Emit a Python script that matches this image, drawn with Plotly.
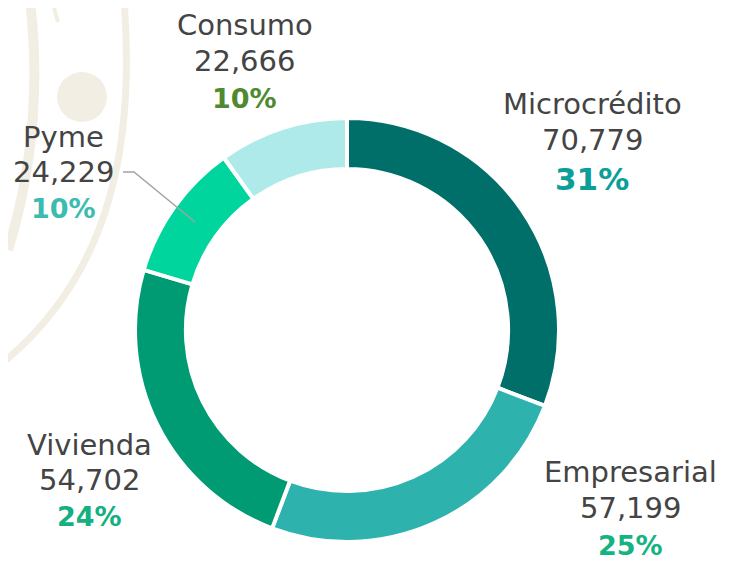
import plotly.graph_objects as go

W, H = 730, 563
OFF = 8  # page body margin of the saved html
FW, FH = W - OFF, H - OFF

categories = ["Microcrédito", "Empresarial", "Vivienda", "Pyme", "Consumo"]
values = [70779, 57199, 54702, 24229, 22666]
value_labels = ["70,779", "57,199", "54,702", "24,229", "22,666"]
pct_labels = ["31%", "25%", "24%", "10%", "10%"]
slice_colors = ["#006e69", "#2db2ae", "#009b72", "#00d59d", "#aeeaea"]
pct_colors = ["#0c9e99", "#14b381", "#15b07f", "#3cbcb0", "#4f8a30"]
pct_sizes = [31, 27, 27, 27, 27]

# label block centres (pixel coords: x centre, y of first line)
label_x = [592, 630, 89, 64, 245]
label_y = [104, 472, 445, 137, 25]
line_gap = [36, 36, 35, 35, 36]


def px(x):
    return (x - OFF) / FW


def py(y):
    return 1 - (y - OFF) / FH


cx, cy, r = 347, 330, 212

fig = go.Figure()
fig.add_trace(go.Pie(
    labels=categories,
    values=values,
    sort=False,
    direction="clockwise",
    rotation=0,
    hole=0.76,
    textinfo="none",
    hoverinfo="label+value+percent",
    marker=dict(colors=slice_colors, line=dict(color="white", width=4)),
    domain=dict(x=[px(cx - r), px(cx + r)], y=[py(cy + r), py(cy - r)]),
    showlegend=False,
))

annotations = []
for i in range(len(categories)):
    g = line_gap[i]
    annotations.append(dict(x=px(label_x[i]), y=py(label_y[i]), text=categories[i],
                            font=dict(size=29, color="#444444")))
    annotations.append(dict(x=px(label_x[i]), y=py(label_y[i] + g), text=value_labels[i],
                            font=dict(size=29, color="#444444")))
    annotations.append(dict(x=px(label_x[i]), y=py(label_y[i] + 2 * g + (3 if pct_sizes[i] > 30 else 1)),
                            text="<b>" + pct_labels[i] + "</b>",
                            font=dict(size=pct_sizes[i], color=pct_colors[i])))
for a in annotations:
    a.update(xref="paper", yref="paper", showarrow=False, xanchor="center", yanchor="middle")


def path(points, cmd):
    return cmd.format(*[v for p in points for v in (px(p[0]), py(p[1]))])


beige = "#f2eee4"
shapes = [
    # decorative background arcs
    dict(type="path", xref="paper", yref="paper",
         path=path([(124, 0), (134, 130), (118, 270), (0, 365)], "M {0},{1} C {2},{3} {4},{5} {6},{7}"),
         line=dict(color=beige, width=7)),
    dict(type="path", xref="paper", yref="paper",
         path=path([(30, 0), (45, 130), (8, 250)], "M {0},{1} Q {2},{3} {4},{5}"),
         line=dict(color=beige, width=10)),
    dict(type="circle", xref="paper", yref="paper",
         x0=px(57), x1=px(107), y0=py(72), y1=py(122),
         fillcolor=beige, line=dict(width=0)),
    dict(type="line", xref="paper", yref="paper",
         x0=px(54), x1=px(58), y0=py(8), y1=py(22), line=dict(color=beige, width=4)),
    # leader line for Pyme
    dict(type="path", xref="paper", yref="paper",
         path=path([(123, 172), (134, 172), (195, 222)], "M {0},{1} L {2},{3} L {4},{5}"),
         line=dict(color="#a3a3a3", width=1.5)),
]

fig.update_layout(
    width=FW, height=FH,
    margin=dict(l=0, r=0, t=0, b=0),
    paper_bgcolor="white",
    plot_bgcolor="white",
    font=dict(family="DejaVu Sans"),
    annotations=annotations,
    shapes=shapes,
)

fig.write_html("out.html")
